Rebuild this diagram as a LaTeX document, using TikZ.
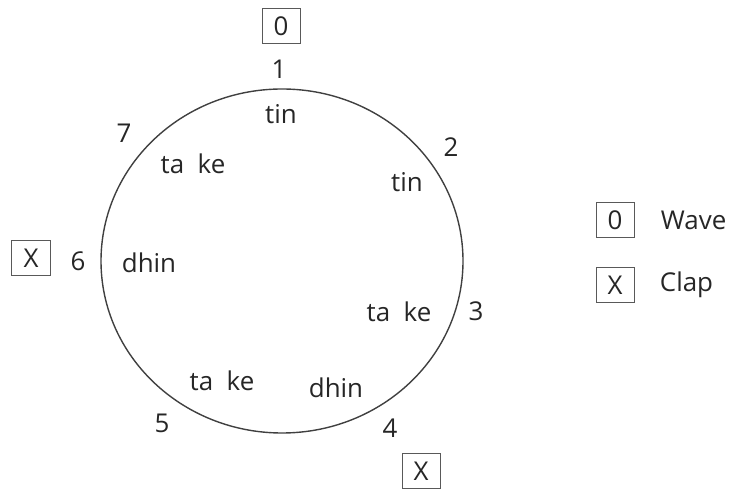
\documentclass[tikz,border=0pt]{standalone}
\usepackage{fontspec}
\setmainfont{Open Sans}
\usetikzlibrary{positioning}

\begin{document}
\begin{tikzpicture}[x=0.5bp,y=-0.5bp]
	\tikzset{
		beatbox/.style={rectangle, draw=black!65, line width=0.5bp, minimum width=19bp, minimum height=17.5bp, inner sep=0pt, font=\fontsize{13}{15}\selectfont, text=black!85},
		beatnum/.style={inner sep=0pt, anchor=base, font=\fontsize{13}{15}\selectfont, text=black!85},
		bolnode/.style={inner sep=0pt, anchor=base, font=\fontsize{13}{15}\selectfont, text=black!85},
	}
	\useasboundingbox (0,0) rectangle (736,491);

	\draw[black!75, line width=0.7bp] (282,261) ellipse [x radius=181, y radius=172];

	% beat numbers round the cycle
	\node[beatnum] (n1) at (279,79) {1};
	\node[beatnum] (n2) at (451,157) {2};
	\node[beatnum] (n3) at (476,321) {3};
	\node[beatnum] (n4) at (390,438) {4};
	\node[beatnum] (n5) at (162,433) {5};
	\node[beatnum] (n6) at (78,271) {6};
	\node[beatnum] (n7) at (124,143) {7};

	% bols
	\node[bolnode] (b1) at (281,124) {tin};
	\node[bolnode] (b2) at (407,192) {tin};
	\node[bolnode] (b3) at (399,322) {ta~~ke};
	\node[bolnode] (b4) at (336,398) {dhin};
	\node[bolnode] (b5) at (222,391) {ta~~ke};
	\node[bolnode] (b6) at (149,273) {dhin};
	\node[bolnode] (b7) at (193,174) {ta~~ke};

	% wave and claps
	\node[beatbox] (w1) at (281,26) {0};
	\node[beatbox] (c6) at (31,258) {X};
	\node[beatbox] (c4) at (421,471) {X};

	% legend
	\node[beatbox] (wavebox) at (615,220) {0};
	\node[beatbox] (clapbox) at (615,285) {X};
	\node[bolnode, anchor=west, right=13bp of wavebox] (wave) {Wave};
	\node[bolnode, anchor=west, right=12.5bp of clapbox] (clap) {Clap};
\end{tikzpicture}
\end{document}
